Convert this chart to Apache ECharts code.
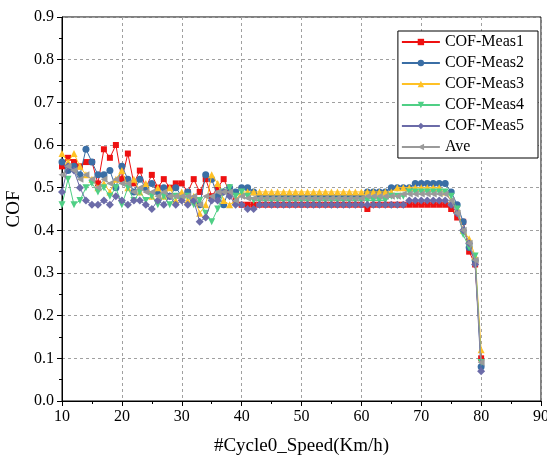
<!DOCTYPE html>
<html>
<head>
<meta charset="utf-8">
<title>COF vs Speed</title>
<script src="https://cdn.jsdelivr.net/npm/echarts@6/dist/echarts.min.js"></script>
<style>
  html, body { margin: 0; padding: 0; background: #fff; }
  #chart { width: 547px; height: 465px; }
</style>
</head>
<body>
<div id="chart"></div>
<script>
// Speed steps (km/h)
const speed = [10,11,12,13,14,15,16,17,18,19,20,21,22,23,24,25,26,27,28,29,30,
  31,32,33,34,35,36,37,38,39,40,41,42,43,44,45,46,47,48,49,50,
  51,52,53,54,55,56,57,58,59,60,61,62,63,64,65,66,67,68,69,70,
  71,72,73,74,75,76,77,78,79,80];

const meas1 = [.55,.57,.56,.55,.56,.56,.51,.59,.57,.60,.52,.58,.51,.54,.50,.53,.50,.52,.50,.51,.51,
  .49,.52,.49,.52,.48,.50,.52,.49,.47,.46,
  .46,.46,.46,.46,.46,.46,.46,.46,.46,.46,.46,.46,.46,.46,.46,.46,.46,.46,.46,.46,
  .45,.46,.46,.46,.46,.46,.46,.46,.46,.46,.46,.46,.46,.46,
  .45,.43,.42,.35,.32,.10];

const meas2 = [.56,.54,.55,.53,.59,.56,.53,.53,.54,.50,.55,.52,.49,.52,.50,.51,.49,.50,.48,.50,.48,
  .49,.47,.46,.53,.52,.48,.46,.50,.49,.50,
  .50,.49,.48,.48,.48,.48,.48,.48,.48,.48,.48,.48,.48,.48,.48,.48,.48,.48,.48,.48,
  .49,.49,.49,.49,.50,.50,.50,.50,.51,.51,.51,.51,.51,.51,
  .49,.46,.42,.36,.33,.08];

const meas3 = [.58,.56,.58,.55,.53,.52,.50,.51,.49,.52,.54,.50,.52,.49,.51,.48,.50,.48,.50,.47,.49,
  .47,.48,.44,.46,.53,.51,.47,.46,.47,.49,
  .49,.49,.49,.49,.49,.49,.49,.49,.49,.49,.49,.49,.49,.49,.49,.49,.49,.49,.49,.49,
  .49,.49,.49,.49,.49,.50,.50,.50,.50,.50,.50,.50,.50,.49,
  .47,.45,.40,.38,.34,.12];

const meas4 = [.46,.52,.46,.47,.50,.51,.49,.50,.48,.50,.46,.50,.47,.49,.47,.48,.46,.48,.46,.48,.47,
  .48,.46,.47,.44,.42,.45,.49,.50,.48,.49,
  .48,.47,.47,.47,.47,.47,.47,.47,.47,.47,.47,.47,.47,.47,.47,.47,.47,.47,.47,.47,
  .47,.47,.47,.47,.48,.48,.48,.49,.49,.49,.49,.49,.49,.49,
  .48,.45,.39,.36,.34,.09];

const meas5 = [.49,.55,.54,.50,.47,.46,.46,.47,.46,.48,.47,.46,.47,.47,.46,.45,.47,.46,.48,.46,.47,
  .46,.47,.42,.43,.47,.47,.49,.48,.46,.46,
  .45,.45,.46,.46,.46,.46,.46,.46,.46,.46,.46,.46,.46,.46,.46,.46,.46,.46,.46,.46,
  .46,.46,.46,.46,.46,.46,.46,.47,.47,.47,.47,.47,.47,.47,
  .46,.44,.40,.37,.32,.07];

const ave = [.53,.55,.54,.52,.53,.52,.50,.52,.51,.52,.51,.51,.49,.50,.49,.49,.48,.49,.48,.48,.48,
  .48,.48,.46,.48,.48,.49,.49,.49,.47,.48,
  .475,.475,.475,.475,.475,.475,.475,.475,.475,.475,.475,.475,.475,.475,.475,.475,.475,.475,.475,.475,
  .48,.48,.48,.48,.48,.48,.485,.485,.485,.485,.485,.485,.485,.485,
  .47,.44,.40,.37,.33,.09];

const seriesNames = ['COF-Meas1','COF-Meas2','COF-Meas3','COF-Meas4','COF-Meas5','Ave'];
const seriesValues = [meas1, meas2, meas3, meas4, meas5, ave];
const seriesColors = ['#EE1111','#3A6EA5','#FFC125','#4FCF85','#6B6BA8','#9A9A9A'];
const seriesSymbols = [
  'rect',
  'circle',
  'triangle',
  'path://M0,0 L10,0 L5,9 Z',
  'diamond',
  'path://M0,5 L9,0 L9,10 Z'
];
const seriesSymbolSizes = [6, 7, 7, 7, 8, 7];

const yTicks = ['0.0','0.1','0.2','0.3','0.4','0.5','0.6','0.7','0.8','0.9'];

const FONT = '"Liberation Serif", "Times New Roman", serif';

const chart = echarts.init(document.getElementById('chart'), null, { renderer: 'canvas' });

const series = seriesNames.map((name, i) => ({
  name: name,
  type: 'line',
  data: speed.map((s, k) => [s, seriesValues[i][k]]),
  symbol: seriesSymbols[i],
  symbolSize: seriesSymbolSizes[i],
  showAllSymbol: true,
  lineStyle: { width: 1, color: seriesColors[i] },
  itemStyle: { color: seriesColors[i] },
  emphasis: { disabled: true },
  animation: false,
  z: 2 + i
}));

chart.setOption({
  animation: false,
  backgroundColor: '#ffffff',
  grid: {
    left: 62, right: 6, top: 17, bottom: 64,
    outerBoundsMode: 'none',
    containLabel: false,
    show: true, borderColor: '#000', borderWidth: 1, backgroundColor: 'transparent'
  },
  legend: {
    data: seriesNames,
    orient: 'vertical',
    right: 9,
    top: 31,
    itemWidth: 38,
    itemHeight: 8,
    itemGap: 5,
    padding: [3, 14, 3, 3],
    borderColor: '#000',
    borderWidth: 1,
    backgroundColor: '#fff',
    textStyle: { fontFamily: FONT, fontSize: 16, color: '#000', lineHeight: 16 }
  },
  xAxis: {
    type: 'value',
    min: 10, max: 90, interval: 10,
    name: '#Cycle0_Speed(Km/h)',
    nameLocation: 'middle',
    nameGap: 36,
    nameTextStyle: { fontFamily: FONT, fontSize: 19, color: '#000' },
    axisLine: { show: true, onZero: false, lineStyle: { color: '#000', width: 1 } },
    axisTick: { show: true, inside: false, length: 5, lineStyle: { color: '#000' } },
    minorTick: { show: true, splitNumber: 2, length: 3, lineStyle: { color: '#000' } },
    axisLabel: { fontFamily: FONT, fontSize: 16, color: '#000', margin: 8 },
    splitLine: { show: true, lineStyle: { color: '#A0A0A0', type: [3, 3], width: 1 } }
  },
  yAxis: {
    type: 'value',
    min: 0, max: 0.9, interval: 0.1,
    name: 'COF',
    nameLocation: 'middle',
    nameGap: 37,
    nameTextStyle: { fontFamily: FONT, fontSize: 19, color: '#000' },
    axisLine: { show: true, onZero: false, lineStyle: { color: '#000', width: 1 } },
    axisTick: { show: true, inside: false, length: 5, lineStyle: { color: '#000' } },
    minorTick: { show: true, splitNumber: 2, length: 3, lineStyle: { color: '#000' } },
    axisLabel: {
      fontFamily: FONT, fontSize: 16, color: '#000', margin: 8,
      formatter: (v) => yTicks[Math.round(v * 10)]
    },
    splitLine: { show: true, lineStyle: { color: '#A0A0A0', type: [3, 3], width: 1 } }
  },
  series: series
});
</script>
</body>
</html>
